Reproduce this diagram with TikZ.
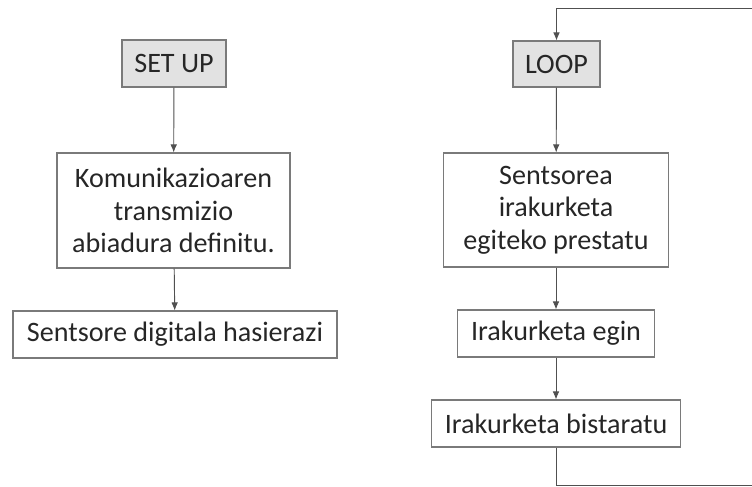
\documentclass[tikz,border=0pt]{standalone}
\usepackage{fontspec}
\setmainfont{Carlito}
\usepackage{xcolor}
\usetikzlibrary{arrows.meta,calc}

\definecolor{edgegray}{HTML}{7A7A7A}
\definecolor{linegray}{HTML}{505050}
\definecolor{headfill}{HTML}{E2E2E2}

\begin{document}
\begin{tikzpicture}[
  x=0.03cm, y=-0.03cm,
  box/.style={draw=edgegray, line width=0.9pt, align=center, font=\fontsize{24}{27.6}\selectfont, text=black!85, inner sep=2pt, minimum height=1.41cm},
  head/.style={box, fill=headfill},
  arr/.style={-{Latex[length=2.4mm,width=2mm]}, draw=linegray, line width=0.8pt}
]
\useasboundingbox (0,0) rectangle (752,487);
\clip (0,0) rectangle (752,487);
% left column
\node[head, minimum width=3.12cm] (setup) at (174,63.5) {SET UP};
\node[box, minimum width=6.99cm, minimum height=3.45cm] (baud) at (173.5,210.5) {Komunikazioaren\\transmizio\\abiadura definitu.};
\node[box, minimum width=9.72cm] (init) at (175,334.5) {Sentsore digitala hasierazi};
% right column
\node[head, minimum width=2.61cm, minimum height=1.38cm] (loop) at (556.5,64) {LOOP};
\node[box, minimum width=6.75cm, minimum height=3.42cm] (prep) at (556,210) {Sentsorea\\irakurketa\\egiteko prestatu};
\node[box, minimum width=5.91cm] (read) at (556,333.5) {Irakurketa egin};
\node[box, minimum width=7.47cm] (show) at (556,423.5) {Irakurketa bistaratu};
\draw[arr] (setup) -- (baud);
\draw[arr] (baud) -- (init);
\draw[arr] (loop) -- (prep);
\draw[arr] (prep) -- (read);
\draw[arr] (read) -- (show);
% back to loop
\coordinate (bl) at (show.south |- 0,485);
\coordinate (tl) at (loop.north |- 0,8.5);
\draw[arr] (show.south) -- (bl) -- (770,485) -- (770,8.5) -- (tl) -- (loop.north);
\end{tikzpicture}
\end{document}
